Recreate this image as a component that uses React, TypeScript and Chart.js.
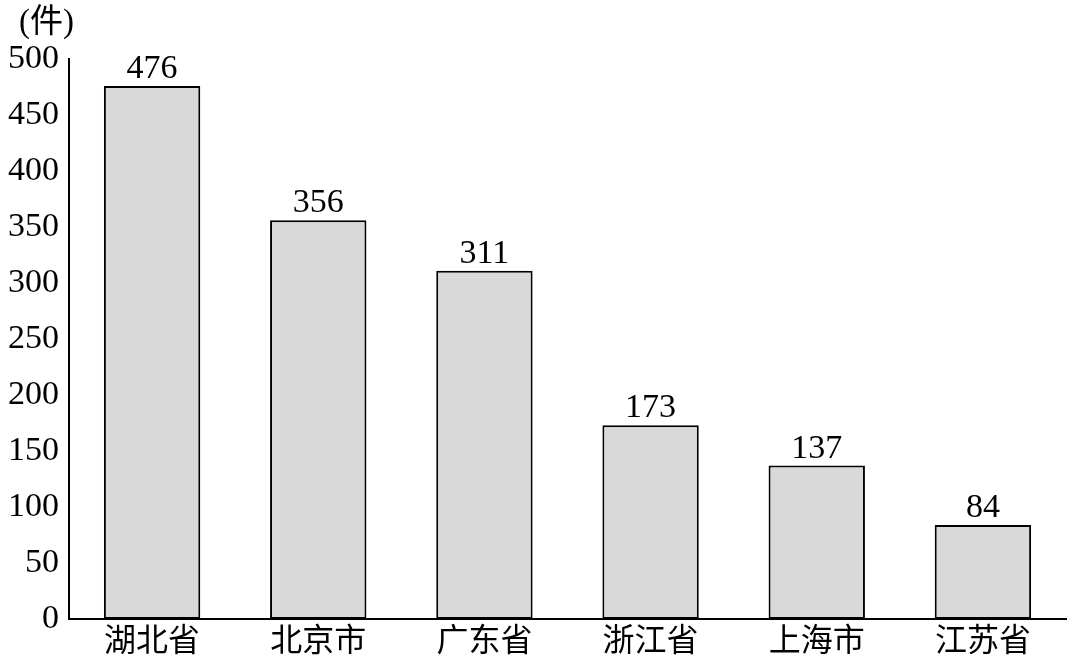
import React, { useEffect, useRef } from "react";
import { Chart, registerables } from "chart.js";

Chart.register(...registerables);

const categories = ["湖北省", "北京市", "广东省", "浙江省", "上海市", "江苏省"];
const values = [476, 356, 311, 173, 137, 84];
const yTicks = [0, 50, 100, 150, 200, 250, 300, 350, 400, 450, 500];
const unitLabel = "(件)";

const FONT = '"Liberation Serif", "Noto Sans CJK SC", serif';

const valueLabelPlugin = {
  id: "valueLabels",
  afterDatasetsDraw(chart: any) {
    const ctx = chart.ctx;
    const meta = chart.getDatasetMeta(0);
    ctx.save();
    ctx.fillStyle = "#000";
    ctx.font = `34px ${FONT}`;
    ctx.textAlign = "center";
    ctx.textBaseline = "alphabetic";
    meta.data.forEach((bar: any, i: number) => {
      ctx.fillText(String(values[i]), bar.x, bar.y - 8);
    });
    ctx.restore();
  },
};

const unitPlugin = {
  id: "unitLabel",
  afterDraw(chart: any) {
    const ctx = chart.ctx;
    const y = chart.scales.y;
    ctx.save();
    ctx.fillStyle = "#000";
    ctx.font = `33px ${FONT}`;
    ctx.textAlign = "left";
    ctx.textBaseline = "middle";
    ctx.fillText(unitLabel, 19, y.top - 36);
    ctx.restore();
  },
};

export default function App() {
  const ref = useRef<HTMLCanvasElement>(null);
  useEffect(() => {
    if (!ref.current) return;
    const chart = new Chart(ref.current, {
      type: "bar",
      data: {
        labels: categories,
        datasets: [
          {
            data: values,
            backgroundColor: "#d9d9d9",
            borderColor: "#000",
            borderWidth: 2,
            borderSkipped: false,
            categoryPercentage: 1,
            barPercentage: 0.58,
          },
        ],
      },
      options: {
        animation: false,
        responsive: true,
        maintainAspectRatio: false,
        layout: { padding: { top: 59, left: 0, right: 7, bottom: 0 } },
        plugins: {
          legend: { display: false },
          tooltip: { enabled: false },
        },
        scales: {
          x: {
            afterFit(scale: any) {
              scale.height = 45;
            },
            grid: { display: false, drawTicks: false },
            border: { display: true, color: "#000", width: 2 },
            ticks: {
              color: "#000",
              font: { family: FONT, size: 32, lineHeight: 1 },
              padding: 8,
            },
          },
          y: {
            min: 0,
            max: 500,
            afterFit(scale: any) {
              scale.width = 69;
            },
            afterBuildTicks(scale: any) {
              scale.ticks = yTicks.map((v) => ({ value: v }));
            },
            grid: { display: false, drawTicks: false },
            border: { display: true, color: "#000", width: 2 },
            ticks: {
              color: "#000",
              font: { family: FONT, size: 34, lineHeight: 1 },
              padding: 10,
            },
          },
        },
      },
      plugins: [valueLabelPlugin, unitPlugin],
    });
    return () => chart.destroy();
  }, []);
  return (
    <div style={{ position: "fixed", left: 0, top: 0, width: 1073, height: 664, background: "#fff" }}>
      <canvas ref={ref} />
    </div>
  );
}
